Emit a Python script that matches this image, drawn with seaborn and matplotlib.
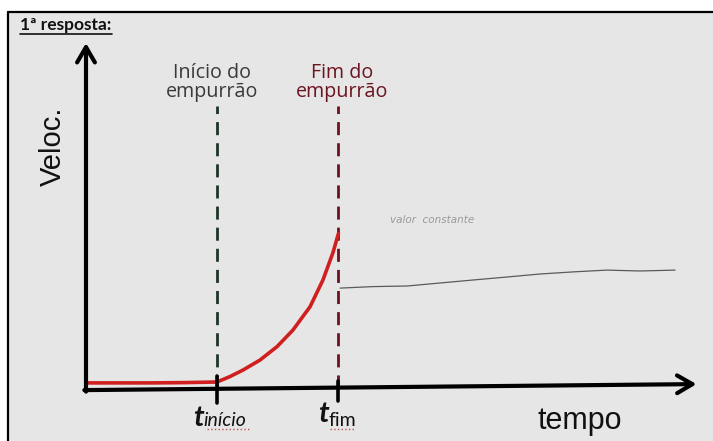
import matplotlib
matplotlib.use("Agg")
import matplotlib.pyplot as plt
import seaborn as sns
import pandas as pd
from matplotlib.patches import Rectangle
from matplotlib.lines import Line2D

# --- data (arbitrary units) ---
t_inicio = 3.97
t_fim = 7.65

push_t = [0.0, 1.0, 2.0, 3.0, 3.97, 4.36, 4.76, 5.27, 5.79, 6.27, 6.79, 7.18, 7.48, 7.65]
push_v = [0.17, 0.17, 0.17, 0.18, 0.20, 0.38, 0.60, 0.93, 1.38, 1.93, 2.71, 3.60, 4.50, 5.15]

after_t = [7.70, 8.70, 9.73, 10.73, 11.73, 12.76, 13.76, 14.76, 15.79, 16.79, 17.85]
after_v = [3.33, 3.38, 3.40, 3.50, 3.60, 3.70, 3.80, 3.87, 3.93, 3.90, 3.93]

marker_top = 9.4
y_arrow_top = 11.5
x_arrow_end = 18.5

df_push = pd.DataFrame({"t": push_t, "v": push_v})
df_after = pd.DataFrame({"t": after_t, "v": after_v})

sns.set_theme(style="white")
plt.rcParams["font.family"] = ["Open Sans", "DejaVu Sans"]

fig = plt.figure(figsize=(7.13, 4.41), dpi=100)
fig.patch.set_facecolor("white")

# grey sheet with a black frame (cropped at right/bottom)
fig.patches.append(Rectangle((8 / 713, 0), 1, 1 - 12 / 441, transform=fig.transFigure,
                             facecolor="#e6e6e6", edgecolor="none", zorder=-5))
fig.lines.append(Line2D([8 / 713, 8 / 713], [0, 1 - 12 / 441], transform=fig.transFigure,
                        color="black", lw=1.6, zorder=-4))
fig.lines.append(Line2D([8 / 713, 1], [1 - 12 / 441, 1 - 12 / 441], transform=fig.transFigure,
                        color="black", lw=1.6, zorder=-4))

ax = fig.add_axes([0, 0, 1, 1])
ax.set_facecolor("none")
ax.set_xlim(-86 / 33, (713 - 86) / 33)
ax.set_ylim(-53 / 30, 388 / 30)
ax.axis("off")

# curves
sns.lineplot(data=df_push, x="t", y="v", ax=ax, color="#cf1f1f", lw=2.6, zorder=4)
sns.lineplot(data=df_after, x="t", y="v", ax=ax, color="#5a5a5a", lw=0.9, zorder=3)

# dashed markers
ax.plot([t_inicio, t_inicio], [0, marker_top], color="#1e3526", lw=2,
        ls=(0, (4.7, 2.9)), zorder=2)
ax.plot([t_fim, t_fim], [0, marker_top], color="#6e1020", lw=2,
        ls=(0, (4.7, 2.9)), zorder=2)

# axes with arrows
arrow = dict(arrowstyle="->,head_length=0.55,head_width=0.32", lw=3, color="black",
             mutation_scale=20, shrinkA=0, shrinkB=0)
ax.annotate("", xy=(0, y_arrow_top), xytext=(0, -0.12), arrowprops=arrow, zorder=5)
ax.annotate("", xy=(x_arrow_end, 0.13), xytext=(-0.05, -0.07), arrowprops=arrow, zorder=5)

# tick marks on time axis
ax.plot([t_inicio, t_inicio], [-0.5, 0.4], color="black", lw=2.6, zorder=5)
ax.plot([t_fim, t_fim], [-0.42, 0.25], color="black", lw=2.6, zorder=5)

# labels
ax.text(t_inicio - 0.15, marker_top + 0.13, "Início do\nempurrão", ha="center", va="bottom",
        fontsize=14.2, color="#3a3a3a", linespacing=0.95)
ax.text(t_fim + 0.1, marker_top + 0.13, "Fim do\nempurrão", ha="center", va="bottom",
        fontsize=14.2, color="#6b1520", linespacing=0.95)

ax.text(-1.0, 8.05, "Veloc.", rotation=90, ha="center", va="center", fontsize=21,
        family=["Liberation Sans", "DejaVu Sans"], color="#111111")
ax.text(14.97, -1.1, "tempo", ha="center", va="center", fontsize=22,
        family=["Liberation Sans", "DejaVu Sans"], color="#111111")

lato = ["Lato", "DejaVu Sans"]
ax.text(t_inicio - 0.4, -0.55, "t", ha="right", va="top", fontsize=21, style="italic",
        weight="bold", family=lato, color="#111111")
ax.text(t_inicio - 0.4, -0.8, "início", ha="left", va="top", fontsize=14, style="italic",
        family=lato, color="#111111")
ax.text(t_fim - 0.3, -0.45, "t", ha="right", va="top", fontsize=21, style="italic",
        weight="bold", family=lato, color="#111111")
ax.text(t_fim - 0.3, -0.8, "fim", ha="left", va="top", fontsize=14,
        family=lato, color="#111111")

# spell-check squiggles
ax.plot([t_inicio - 0.3, t_inicio + 1.0], [-1.38, -1.38], color="#c0504d", lw=1, ls=":")
ax.plot([t_fim - 0.25, t_fim + 0.5], [-1.38, -1.38], color="#c0504d", lw=1, ls=":")

# faint handwriting
ax.text(9.2, 5.6, "valor  constante", ha="left", va="center", fontsize=7.5,
        color="#9a9a9a", style="italic", family=["DejaVu Sans"])

# title with underline
fig.text(20 / 713, 1 - 25 / 441, "1ª resposta:", ha="left", va="center", fontsize=12.5,
         weight="bold", family=lato, color="#111111")
fig.lines.append(Line2D([20 / 713, 112 / 713], [1 - 34 / 441, 1 - 34 / 441],
                        transform=fig.transFigure, color="#111111", lw=1.2))

fig.savefig("out.png", dpi=100)
